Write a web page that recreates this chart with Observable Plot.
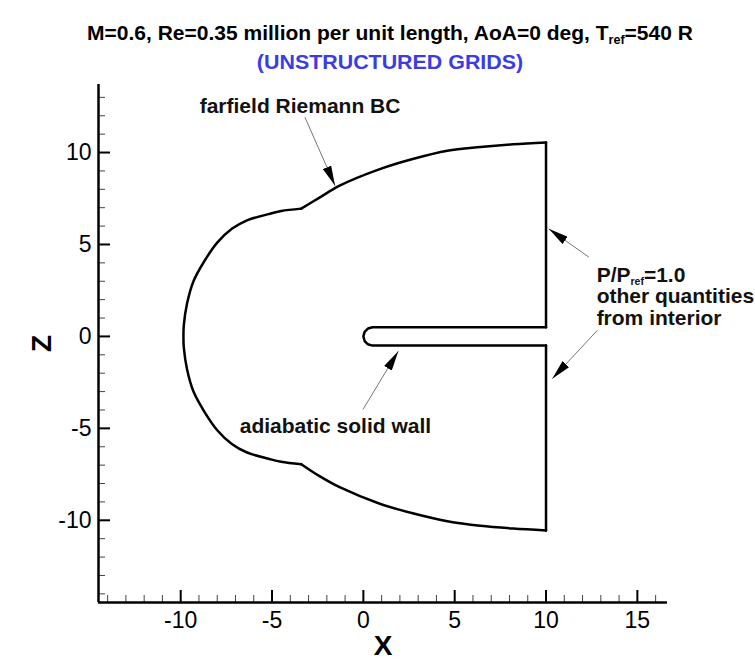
<!DOCTYPE html>
<html>
<head>
<meta charset="utf-8">
<script src="https://cdn.jsdelivr.net/npm/d3@7"></script>
<script src="https://cdn.jsdelivr.net/npm/@observablehq/plot@0.6"></script>
<style>
  body { margin: 0; background: #fff; font-family: "Liberation Sans", Arial, Helvetica, sans-serif; }
  #head { position: relative; width: 755px; height: 70px; }
  #head div { position: absolute; left: 390px; white-space: nowrap;
              font-weight: bold; font-size: 20px; line-height: 22px; }
  #t1 { top: 22px; color: #000; transform: translateX(-50%) scaleX(1.05); }
  #t2 { top: 51px; color: #3b3be8; transform: translateX(-50%) scaleX(1.07); }
  #head sub { font-size: 12px; vertical-align: -4px; line-height: 0; }
  svg { display: block; overflow: visible; }
</style>
</head>
<body>
<div id="head">
  <div id="t1">M=0.6, Re=0.35 million per unit length, AoA=0 deg, T<sub>ref</sub>=540 R</div>
  <div id="t2">(UNSTRUCTURED GRIDS)</div>
</div>
<div id="chart"></div>
<script>
// Axis extents and ticks
const xDomain = [-14.5, 16.65];
const zDomain = [-14.47, 13.7];
const xMajor = [-10, -5, 0, 5, 10, 15];
const xMinor = [-14, -13, -12, -11, -9, -8, -7, -6, -4, -3, -2, -1, 1, 2, 3, 4, 6, 7, 8, 9, 11, 12, 13, 14, 16];
const zMajor = [-10, -5, 0, 5, 10];
const zMinor = [-14, -13, -12, -11, -9, -8, -7, -6, -4, -3, -2, -1, 1, 2, 3, 4, 6, 7, 8, 9, 11, 12, 13];

// Domain boundary pieces, [x, z]
const outflowUpper = [[10, 0.5], [10, 10.55]];
const farfieldUpper = [[10, 10.55], [8.2, 10.45], [6.4, 10.3], [4.6, 10.1], [2.7, 9.65], [0.9, 9.1], [-1.3, 8.2], [-2.4, 7.55], [-3.4, 6.95]];
const farfieldArc = [[-3.4, 6.95], [-4.5, 6.82], [-5.2, 6.65], [-6.4, 6.3], [-7.2, 5.85], [-8.0, 5.1], [-8.7, 4.1], [-9.3, 3.0], [-9.65, 1.8], [-9.83, 0.6], [-9.85, 0],
                     [-9.83, -0.6], [-9.65, -1.8], [-9.3, -3.0], [-8.7, -4.1], [-8.0, -5.1], [-7.2, -5.85], [-6.4, -6.3], [-5.2, -6.65], [-4.5, -6.82], [-3.4, -6.95]];
const farfieldLower = [[-3.4, -6.95], [-2.4, -7.6], [-1.3, -8.2], [0.9, -9.1], [2.7, -9.62], [4.6, -10.05], [6.4, -10.3], [8.2, -10.45], [10, -10.55]];
const outflowLower = [[10, -10.55], [10, -0.5]];
const wallSlot = [[10, -0.5], [0.5, -0.5], [0.25, -0.43], [0.07, -0.25], [0, 0], [0.07, 0.25], [0.25, 0.43], [0.5, 0.5], [10, 0.5]];

// Annotation leaders: tail and tip, [x, z]
const leaderFrom = [[-3.2, 11.92], [12.35, 4.31], [12.81, 0.33], [-0.02, -3.97]];
const leaderTo = [[-1.55, 8.2], [10.15, 5.85], [10.34, -2.3], [1.91, -0.8]];

// Annotation texts
const noteText = ["farfield Riemann BC", "adiabatic solid wall", "P/Pref=1.0\nother quantities\nfrom interior"];
const noteX = [-8.96, -6.77, 12.77];
const noteZ = [12.55, -4.89, 2.17];

const toRows = (pts, seg) => pts.map(([x, z]) => ({x, z, seg}));
const curved = [...toRows(farfieldUpper, "upper"), ...toRows(farfieldArc, "arc"), ...toRows(farfieldLower, "lower")];
const straight = [...toRows(outflowUpper, "outU"), ...toRows(outflowLower, "outL"), ...toRows(wallSlot, "wall")];
const leaders = leaderFrom.map((a, i) => ({x1: a[0], z1: a[1], x2: leaderTo[i][0], z2: leaderTo[i][1]}));
const notes = noteText.map((t, i) => ({t, x: noteX[i], z: noteZ[i]}));

const W = 755, H = 590, mL = 98, mR = 88, mT = 14, mB = 58;
const plotW = W - mL - mR, plotH = H - mT - mB;

const chart = Plot.plot({
  width: W, height: H,
  marginLeft: mL, marginRight: mR, marginTop: mT, marginBottom: mB,
  x: {domain: xDomain, label: null},
  y: {domain: zDomain, label: null},
  style: {fontFamily: "'Liberation Sans', Arial, Helvetica, sans-serif", background: "#fff", color: "#000"},
  marks: [
    // tick labels
    Plot.axisX(xMajor, {tickSize: 0, tickPadding: 9, fontSize: 23, tickFormat: d => String(d), label: null}),
    Plot.axisY(zMajor, {tickSize: 0, tickPadding: 7, fontSize: 23, tickFormat: d => String(d), label: null}),
    // inward ticks
    Plot.ruleX(xMinor, {insetTop: plotH - 7, stroke: "#444", strokeWidth: 1}),
    Plot.ruleX(xMajor, {insetTop: plotH - 12, stroke: "#000", strokeWidth: 2}),
    Plot.ruleY(zMinor, {insetRight: plotW - 7, stroke: "#444", strokeWidth: 1}),
    Plot.ruleY(zMajor, {insetRight: plotW - 12, stroke: "#000", strokeWidth: 2}),
    // axis lines
    Plot.ruleX([xDomain[0]], {stroke: "#000", strokeWidth: 2.5}),
    Plot.ruleY([zDomain[0]], {stroke: "#000", strokeWidth: 2.5}),
    // axis titles
    Plot.text(["X"], {frameAnchor: "bottom", dy: 44, lineAnchor: "middle", textAnchor: "middle", fontSize: 28, fontWeight: "bold", fill: "#000"}),
    Plot.text(["Z"], {frameAnchor: "left", dx: -56, rotate: -90, lineAnchor: "middle", textAnchor: "middle", fontSize: 28, fontWeight: "bold", fill: "#000"}),
    // boundary
    Plot.line(curved, {x: "x", y: "z", z: "seg", curve: "catmull-rom", stroke: "#000", strokeWidth: 2.5}),
    Plot.line(straight, {x: "x", y: "z", z: "seg", stroke: "#000", strokeWidth: 2.5, strokeLinejoin: "miter"}),
    // annotations
    Plot.link(leaders, {x1: "x1", y1: "z1", x2: "x2", y2: "z2", stroke: "#777", strokeWidth: 1}),
    Plot.text(notes, {x: "x", y: "z", text: "t", textAnchor: "start", lineAnchor: "middle", lineHeight: 1.02, fontSize: 21, fontWeight: "bold", fill: "#111"})
  ]
});
document.getElementById("chart").appendChild(chart);

// filled arrowheads on the leader lines
const svg = d3.select(chart);
svg.append("defs").append("marker")
  .attr("id", "leader-head").attr("viewBox", "0 0 20 9")
  .attr("refX", 20).attr("refY", 4.5)
  .attr("markerWidth", 20).attr("markerHeight", 9)
  .attr("markerUnits", "userSpaceOnUse").attr("orient", "auto")
  .append("path").attr("d", "M0,0L20,4.5L0,9Z").attr("fill", "#000");
svg.selectAll('g[aria-label="link"] path').attr("marker-end", "url(#leader-head)");

// subscript in the pressure note
svg.selectAll("tspan").filter(function() { return this.textContent === "P/Pref=1.0"; }).each(function() {
  const t = d3.select(this);
  t.text(null);
  t.append("tspan").text("P/P");
  t.append("tspan").attr("font-size", 10.5).attr("dy", 3).text("ref");
  t.append("tspan").attr("dy", -3).text("=1.0");
});
</script>
</body>
</html>
